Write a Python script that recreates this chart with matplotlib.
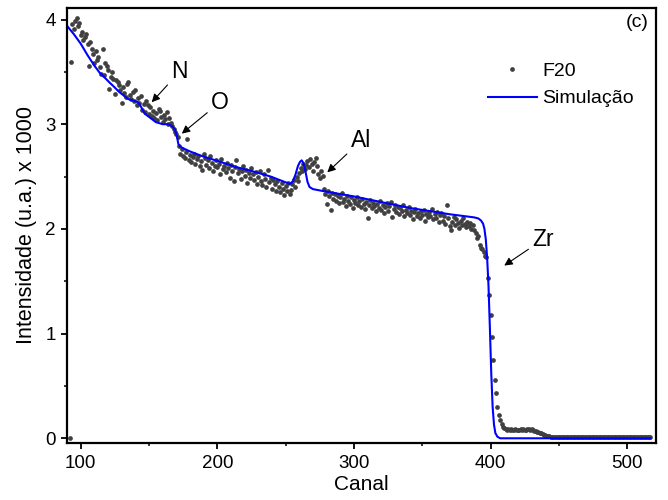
import matplotlib
matplotlib.use("Agg")
import matplotlib.pyplot as plt
from matplotlib.ticker import MultipleLocator

plt.rcParams['font.family'] = ['Liberation Sans', 'DejaVu Sans']

# Experimental spectrum (F20): channel start and one value per channel (x1000 counts)
exp_start = 92
exp_values = [
    0.00, 3.59, 3.96, 3.91, 3.99, 4.01, 3.94, 3.97,                      # 92-99
    3.85, 3.88, 3.80, 3.83, 3.86, 3.77, 3.56, 3.79, 3.72, 3.67,          # 100-109
    3.58, 3.70, 3.61, 3.64, 3.55, 3.48, 3.72, 3.47, 3.58, 3.56,          # 110-119
    3.52, 3.34, 3.45, 3.50, 3.43, 3.29, 3.42, 3.40, 3.37, 3.33,          # 120-129
    3.20, 3.36, 3.30, 3.26, 3.38, 3.40, 3.28, 3.24, 3.31, 3.22,          # 130-139
    3.33, 3.18, 3.25, 3.20, 3.27, 3.14, 3.19, 3.12, 3.22, 3.18,          # 140-149
    3.10, 3.16, 3.08, 3.13, 3.06, 3.11, 3.04, 3.15, 3.13, 3.07,          # 150-159
    3.02, 3.09, 3.05, 3.12, 3.00, 3.06, 3.01, 2.98, 2.95, 2.93,          # 160-169
    2.91, 2.88, 2.79, 2.72, 2.76, 2.70, 2.68, 2.73, 2.86, 2.66,          # 170-179
    2.71, 2.64, 2.69, 2.72, 2.62, 2.67, 2.70, 2.60, 2.65, 2.56,          # 180-189
    2.72, 2.68, 2.61, 2.66, 2.58, 2.70, 2.63, 2.55, 2.60, 2.66,          # 190-199
    2.59, 2.62, 2.52, 2.67, 2.57, 2.60, 2.54, 2.63, 2.58, 2.49,          # 200-209
    2.61, 2.55, 2.46, 2.59, 2.66, 2.53, 2.57, 2.48, 2.55, 2.60,          # 210-219
    2.51, 2.56, 2.44, 2.53, 2.49, 2.58, 2.52, 2.47, 2.54, 2.43,          # 220-229
    2.50, 2.55, 2.46, 2.42, 2.52, 2.48, 2.40, 2.56, 2.45, 2.49,          # 230-239
    2.38, 2.47, 2.43, 2.36, 2.46, 2.40, 2.35, 2.44, 2.38, 2.32,          # 240-249
    2.41, 2.36, 2.44, 2.33, 2.37, 2.43, 2.47, 2.40, 2.50, 2.46,          # 250-259
    2.53, 2.58, 2.55, 2.62, 2.57, 2.61, 2.65, 2.59, 2.67, 2.62,          # 260-269
    2.55, 2.64, 2.68, 2.60, 2.52, 2.49, 2.55, 2.51, 2.38, 2.33,          # 270-279
    2.24, 2.36, 2.31, 2.18, 2.34, 2.29, 2.33, 2.27, 2.31, 2.25,          # 280-289
    2.30, 2.34, 2.26, 2.29, 2.22, 2.31, 2.27, 2.24, 2.30, 2.20,          # 290-299
    2.28, 2.25, 2.30, 2.23, 2.27, 2.21, 2.29, 2.24, 2.19, 2.26,          # 300-309
    2.10, 2.23, 2.28, 2.20, 2.25, 2.22, 2.17, 2.24, 2.20, 2.27,          # 310-319
    2.18, 2.23, 2.15, 2.21, 2.25, 2.17, 2.22, 2.26, 2.11, 2.19,          # 320-329
    2.23, 2.16, 2.21, 2.14, 2.20, 2.17, 2.23, 2.12, 2.18, 2.15,          # 330-339
    2.21, 2.13, 2.17, 2.09, 2.16, 2.19, 2.12, 2.15, 2.10, 2.17,          # 340-349
    2.13, 2.18, 2.08, 2.14, 2.11, 2.16, 2.12, 2.19, 2.09, 2.14,          # 350-359
    2.10, 2.16, 2.07, 2.13, 2.15, 2.08, 2.12, 2.05, 2.23, 2.10,          # 360-369
    2.03, 1.99, 2.07, 2.11, 2.04, 2.09, 2.06, 2.01, 2.08, 2.04,          # 370-379
    2.10, 2.05, 2.02, 2.07, 2.03, 2.06, 2.00, 2.04, 1.99, 1.96,          # 380-389
    1.91, 1.93, 1.85, 1.82, 1.81, 1.78, 1.74, 1.73, 1.53, 1.37,          # 390-399
    1.18, 0.97, 0.75, 0.56, 0.43, 0.30, 0.22, 0.17, 0.14, 0.11,          # 400-409
    0.10, 0.09, 0.08, 0.09, 0.08, 0.085, 0.075, 0.08, 0.09, 0.08,        # 410-419
    0.075, 0.08, 0.085, 0.08, 0.09, 0.08, 0.075, 0.085, 0.09, 0.08,      # 420-429
    0.085, 0.075, 0.07, 0.07, 0.06, 0.06, 0.05, 0.05, 0.04, 0.035,       # 430-439
    0.03, 0.025, 0.02, 0.018, 0.015, 0.012, 0.010, 0.014, 0.011, 0.013,  # 440-449
    0.009, 0.012, 0.015, 0.011, 0.013, 0.010, 0.014, 0.012, 0.009, 0.013,  # 450-459
    0.011, 0.015, 0.012, 0.010, 0.013, 0.011, 0.014, 0.009, 0.012, 0.013,  # 460-469
    0.010, 0.012, 0.015, 0.011, 0.009, 0.013, 0.012, 0.010, 0.014, 0.011,  # 470-479
    0.012, 0.009, 0.013, 0.015, 0.010, 0.012, 0.011, 0.014, 0.009, 0.012,  # 480-489
    0.013, 0.010, 0.011, 0.014, 0.012, 0.009, 0.013, 0.011, 0.010, 0.012,  # 490-499
    0.014, 0.011, 0.009, 0.012, 0.013, 0.010, 0.012, 0.014, 0.011, 0.009,  # 500-509
    0.012, 0.013, 0.010, 0.011, 0.012, 0.009, 0.010, 0.008,               # 510-517
]
exp_channels = list(range(exp_start, exp_start + len(exp_values)))

# Simulation curve
sim_channels = [90, 95, 100, 105, 110, 114, 118, 121, 125, 128, 131, 134, 137, 140, 142,
                144, 147, 151, 155, 160, 164, 167, 169, 170.5, 171.5, 173, 175, 180, 190,
                200, 214, 226, 239, 253, 255, 257, 259, 260.5, 261.7, 263, 264.5, 266,
                267.5, 270, 278, 300, 341, 370, 388, 391, 393, 394.5, 395.5, 396.5, 397.5,
                398.5, 399.5, 400.5, 401.5, 402.5, 403.5, 405, 407, 517]
sim_values = [3.94, 3.86, 3.77, 3.66, 3.56, 3.49, 3.44, 3.40, 3.35, 3.31, 3.28, 3.245, 3.23,
              3.22, 3.21, 3.17, 3.10, 3.06, 3.02, 3.00, 3.00, 2.98, 2.95, 2.88, 2.81, 2.785,
              2.77, 2.74, 2.69, 2.65, 2.59, 2.55, 2.50, 2.43, 2.45, 2.51, 2.60, 2.64, 2.655,
              2.63, 2.55, 2.45, 2.40, 2.38, 2.36, 2.31, 2.20, 2.14, 2.11, 2.10, 2.08, 2.05,
              2.00, 1.90, 1.72, 1.45, 1.05, 0.62, 0.30, 0.13, 0.05, 0.015, 0.0, 0.0]

# Annotations: (label, text position, arrow tip)
annotations = [
    ("N", (172.3, 3.50), (152, 3.21)),
    ("O", (202, 3.21), (174, 2.91)),
    ("Al", (305, 2.84), (280.5, 2.54)),
    ("Zr", (438.5, 1.90), (410, 1.65)),
]

fig = plt.figure(figsize=(6.68, 5.0), dpi=100)
ax = fig.add_axes([0.0999, 0.114, 0.882, 0.870])

ax.plot(exp_channels, exp_values, linestyle='none', marker='o', markersize=3.4,
        color='#404040', markeredgewidth=0, label='F20')
ax.plot(sim_channels, sim_values, color='#0000ff', linewidth=1.5, label='Simulação')

ax.set_xlim(89.8, 521)
ax.set_ylim(-0.045, 4.11)
ax.xaxis.set_major_locator(MultipleLocator(100))
ax.xaxis.set_minor_locator(MultipleLocator(50))
ax.yaxis.set_major_locator(MultipleLocator(1))
ax.yaxis.set_minor_locator(MultipleLocator(0.5))
ax.tick_params(which='major', direction='out', length=4, width=1.3, labelsize=13.5)
ax.tick_params(axis='x', which='major', pad=5)
ax.tick_params(axis='y', which='major', pad=4)
ax.tick_params(which='minor', direction='out', length=2.5, width=1.1)
for s in ax.spines.values():
    s.set_linewidth(1.6)

ax.set_xlabel('Canal', fontsize=15, labelpad=2)
ax.set_ylabel('Intensidade (u.a.) x 1000', fontsize=15.5, labelpad=6)

for label, txt, tip in annotations:
    ax.annotate(label, xy=tip, xytext=txt, fontsize=16.5, ha='center', va='center',
                arrowprops=dict(arrowstyle='-|>', color='black', lw=0.8,
                                mutation_scale=12, shrinkA=1, shrinkB=0))

ax.text(0.988, 0.987, '(c)', transform=ax.transAxes, ha='right', va='top', fontsize=14)

ax.legend(loc='upper left', bbox_to_anchor=(0.715, 0.875), frameon=False, fontsize=14,
          handlelength=2.5, borderpad=0, borderaxespad=0, handletextpad=0.3,
          labelspacing=0.5, markerscale=1.0)

fig.savefig('out.png', dpi=100)
